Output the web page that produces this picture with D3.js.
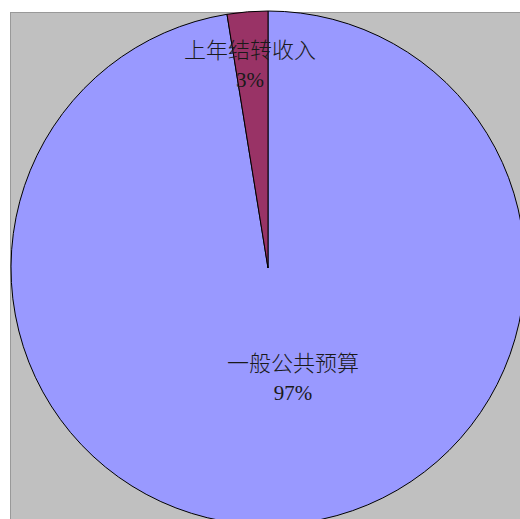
<!DOCTYPE html>
<html><head><meta charset="utf-8">
<script src="https://cdn.jsdelivr.net/npm/d3@7"></script>
<style>html,body{margin:0;padding:0;background:#fff;overflow:hidden}</style>
</head><body>
<svg id="c" width="520" height="519"></svg>
<script>
const categories = ["一般公共预算", "上年结转收入"];
const values = [97.45, 2.55];
const colors = ["#9999FF", "#993366"];

const svg = d3.select("#c");
svg.append("rect").attr("x", 10.5).attr("y", 12.5).attr("width", 530).attr("height", 530)
  .attr("fill", "#C0C0C0").attr("stroke", "#999").attr("stroke-width", 1);

const cx = 268, cy = 268, r = 257;
const data = categories.map((c, i) => ({name: c, value: values[i], color: colors[i]}));
const total = d3.sum(values);
const pie = d3.pie().value(d => d.value).sort(null);
const arc = d3.arc().innerRadius(0).outerRadius(r);
const g = svg.append("g").attr("transform", `translate(${cx},${cy})`);
const arcs = pie(data);
g.selectAll("path").data(arcs).join("path")
  .attr("d", arc).attr("fill", d => d.data.color)
  .attr("stroke", "#000").attr("stroke-width", 1);

const fmt = d3.format(".0%");
const labelPos = [[293, 363], [250, 50]];
const font = "'Liberation Serif','Noto Sans CJK SC',serif";
arcs.forEach((d, i) => {
  const [x, y] = labelPos[i];
  const t = svg.append("text").attr("text-anchor", "middle").attr("fill", "#1a1a1a")
    .style("font-family", font).style("font-weight", "300");
  t.append("tspan").attr("x", x).attr("y", y + 8).style("font-size", "22px").text(d.data.name);
  t.append("tspan").attr("x", x).attr("y", y + 37).style("font-size", "21px").text(fmt(d.data.value / total));
});
</script>
</body></html>
